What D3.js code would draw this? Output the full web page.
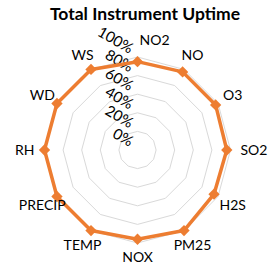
<!DOCTYPE html>
<html>
<head>
<meta charset="utf-8">
<script src="https://cdn.jsdelivr.net/npm/d3@7"></script>
<style>
  body { margin: 0; background: #fff; }
  text { font-family: Lato, "Open Sans", sans-serif; fill: #000; }
</style>
</head>
<body>
<div id="chart"></div>
<script>
// chart data
const categories = ["NO2", "NO", "O3", "SO2", "H2S", "PM25", "NOX", "TEMP", "PRECIP", "RH", "WD", "WS"];
const uptime = [0.95, 0.97, 0.97, 0.96, 0.95, 1.0, 0.96, 1.0, 1.0, 1.0, 1.0, 1.0];
const tickValues = [0, 0.2, 0.4, 0.6, 0.8, 1.0];
const title = "Total Instrument Uptime";

const width = 270, height = 266;
const cx = 137.5, cy = 150, R = 93;

const svg = d3.select("#chart").append("svg")
  .attr("width", width)
  .attr("height", height);

const r = d3.scaleLinear().domain([0, 1]).range([0, R]);
const angle = d3.scalePoint().domain(categories).range([0, 2 * Math.PI * (categories.length - 1) / categories.length]);

function pt(cat, v) {
  const a = angle(cat);
  return [cx + r(v) * Math.sin(a), cy - r(v) * Math.cos(a)];
}

const g = svg.append("g");

// rings
tickValues.filter(t => t > 0).forEach(function (t) {
  g.append("path")
    .attr("d", d3.line()(categories.map(c => pt(c, t))) + "Z")
    .attr("fill", "none")
    .attr("stroke", "#d9d9d9")
    .attr("stroke-width", 1);
});

// value labels, rotated
g.selectAll(".tick")
  .data(tickValues)
  .enter().append("text")
  .attr("class", "tick")
  .attr("transform", d => "translate(" + (cx - 8) + "," + (cy - r(d) - 3) + ") rotate(30)")
  .attr("text-anchor", "end")
  .style("font-size", "15px")
  .text(d3.format(".0%"));

// series line
const lineData = categories.map((c, i) => pt(c, uptime[i]));
g.append("path")
  .attr("d", d3.line()(lineData) + "Z")
  .attr("fill", "none")
  .attr("stroke", "#ed7d31")
  .attr("stroke-width", 3.5)
  .attr("stroke-linejoin", "round");

// diamond markers
g.selectAll(".marker")
  .data(lineData)
  .enter().append("path")
  .attr("class", "marker")
  .attr("transform", d => "translate(" + d[0] + "," + d[1] + ") rotate(45)")
  .attr("d", d3.symbol().type(d3.symbolSquare).size(64))
  .attr("fill", "#ed7d31");

// category labels
categories.forEach(function (c) {
  const a = angle(c);
  const s = Math.sin(a), co = Math.cos(a);
  let x, y, anchor = "middle";
  if (Math.abs(s) > 0.99) {
    x = cx + 103 * s; y = cy;
    anchor = s > 0 ? "start" : "end";
  } else if (co > 0.99) {
    x = cx + 2; y = cy - 110;
    anchor = "start";
  } else if (co < -0.99) {
    x = cx; y = cy + 107;
  } else {
    x = cx + 110 * s; y = cy - 110 * co;
  }
  g.append("text")
    .attr("x", x)
    .attr("y", y)
    .attr("dy", "0.35em")
    .attr("text-anchor", anchor)
    .style("font-size", "14px")
    .text(c);
});

svg.append("text")
  .attr("x", 145)
  .attr("y", 20)
  .attr("text-anchor", "middle")
  .style("font-size", "17.5px")
  .style("font-weight", "bold")
  .text(title);
</script>
</body>
</html>
